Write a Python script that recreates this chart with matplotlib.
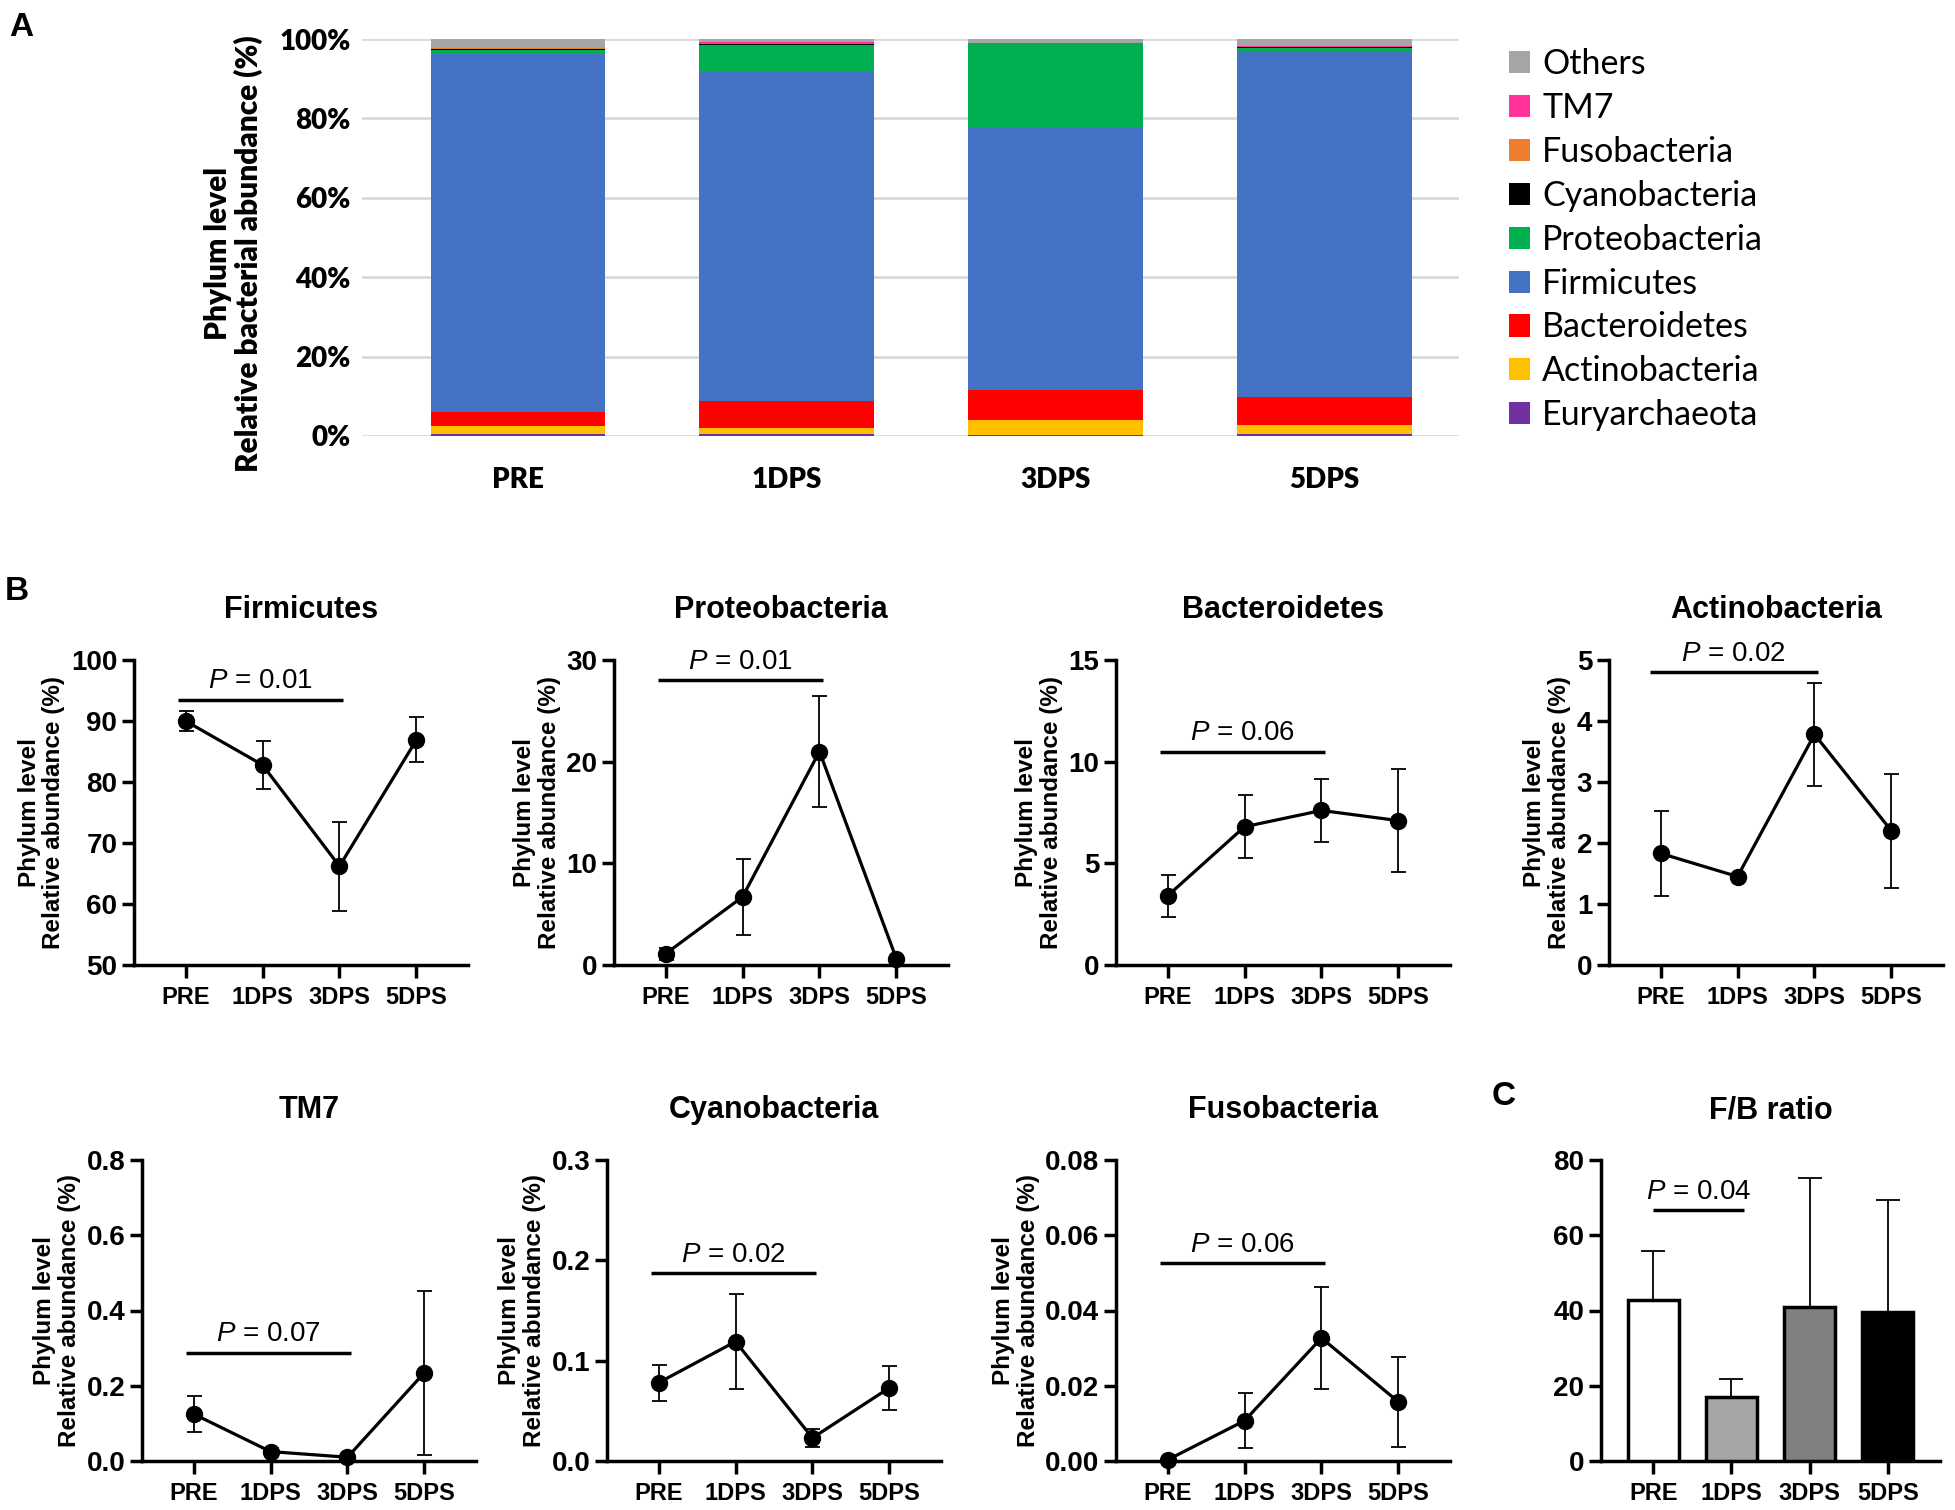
import matplotlib
matplotlib.use("Agg")
import matplotlib.pyplot as plt
import numpy as np

plt.rcParams['font.family'] = ['Liberation Sans', 'DejaVu Sans']
plt.rcParams['mathtext.fontset'] = 'custom'
plt.rcParams['mathtext.it'] = 'Liberation Sans:italic'
plt.rcParams['mathtext.rm'] = 'Liberation Sans'

# ---- panel A: stacked composition (%) ----
groups = ["PRE", "1DPS", "3DPS", "5DPS"]
phyla = ["Euryarchaeota", "Actinobacteria", "Bacteroidetes", "Firmicutes",
         "Proteobacteria", "Cyanobacteria", "Fusobacteria", "TM7", "Others"]
euryarchaeota  = [0.6, 0.4, 0.2, 0.5]
actinobacteria = [1.8, 1.5, 3.8, 2.2]
bacteroidetes  = [3.6, 6.8, 7.6, 7.1]
firmicutes     = [90.2, 83.1, 65.9, 87.3]
proteobacteria = [1.0, 6.7, 21.4, 0.7]
cyanobacteria  = [0.4, 0.2, 0.05, 0.1]
fusobacteria   = [0.05, 0.1, 0.05, 0.05]
tm7            = [0.15, 0.5, 0.05, 0.3]
others         = [2.2, 0.7, 0.95, 1.75]
stack = [euryarchaeota, actinobacteria, bacteroidetes, firmicutes,
         proteobacteria, cyanobacteria, fusobacteria, tm7, others]
colors = ["#7030A0", "#FFC000", "#FF0000", "#4472C4", "#00B050",
          "#000000", "#ED7D31", "#FF3399", "#A5A5A5"]

# ---- panel B/C: mean +/- error ----
firm_mean = [90.0, 82.8, 66.2, 86.9];       firm_err = [1.7, 4.0, 7.3, 3.7]
proteo_mean = [1.1, 6.7, 21.0, 0.6];        proteo_err = [0.6, 3.75, 5.5, 0.2]
bact_mean = [3.4, 6.8, 7.6, 7.1];           bact_err = [1.05, 1.55, 1.55, 2.55]
actino_mean = [1.83, 1.45, 3.78, 2.2];      actino_err = [0.7, 0.05, 0.85, 0.93]
tm7_mean = [0.125, 0.025, 0.01, 0.235];     tm7_err = [0.048, 0.01, 0.005, 0.218]
cyano_mean = [0.078, 0.119, 0.023, 0.073];  cyano_err = [0.018, 0.047, 0.009, 0.022]
fuso_mean = [0.0003, 0.0107, 0.0327, 0.0157]; fuso_err = [0.0002, 0.0073, 0.0135, 0.012]
fb_mean = [42.8, 17.0, 40.8, 39.6];         fb_err = [12.9, 4.9, 34.3, 29.8]
fb_colors = ["#FFFFFF", "#A6A6A8", "#808080", "#000000"]

W, H = 1955, 1510
fig = plt.figure(figsize=(W / 100, H / 100), dpi=100)


def px_axes(left, top, right, bottom):
    return fig.add_axes([left / W, 1 - bottom / H, (right - left) / W, (bottom - top) / H])


# ================= A =================
axA = px_axes(362, 39, 1459, 436)
x = np.arange(len(groups))
bottom = np.zeros(len(groups))
handles = []
for name, vals, c in zip(phyla, stack, colors):
    b = axA.bar(x, vals, width=0.65, bottom=bottom, color=c, label=name, zorder=3, linewidth=0)
    handles.append(b)
    bottom += np.array(vals)
axA.set_xlim(-0.58, 3.5)
axA.set_ylim(0, 100)
axA.set_yticks(range(0, 101, 20))
axA.set_yticklabels([f"{v}%" for v in range(0, 101, 20)], fontfamily="Lato",
                    fontweight="heavy", fontsize=20)
axA.set_xticks(x)
axA.set_xticklabels(groups, fontfamily="Lato", fontweight="heavy", fontsize=20)
axA.tick_params(axis="both", length=0)
axA.tick_params(axis="x", pad=22)
axA.tick_params(axis="y", pad=8)
axA.grid(axis="y", color="#D9D9D9", linewidth=2, zorder=0)
for s in axA.spines.values():
    s.set_visible(False)
axA.set_ylabel("Phylum level\nRelative bacterial abundance (%)", fontfamily="Lato",
               fontweight="heavy", fontsize=21.5, labelpad=12, linespacing=1.05, y=0.46)
fig.legend(handles[::-1], phyla[::-1], loc="upper left", bbox_to_anchor=(1509 / W, 1 - 48 / H),
           frameon=False, prop={"family": "Lato", "size": 24.5}, handlelength=0.62,
           handleheight=0.62, handletextpad=0.35, labelspacing=0.35, borderpad=0,
           borderaxespad=0)

# ================= B / C =================
panels = [
    ("Firmicutes", firm_mean, firm_err, (50, 100), [50, 60, 70, 80, 90, 100], "{:.0f}",
     "0.01", 93.5, (-0.1, 2.05), (134, 660, 468, 965)),
    ("Proteobacteria", proteo_mean, proteo_err, (0, 30), [0, 10, 20, 30], "{:.0f}",
     "0.01", 28.0, (-0.1, 2.05), (614, 660, 948, 965)),
    ("Bacteroidetes", bact_mean, bact_err, (0, 15), [0, 5, 10, 15], "{:.0f}",
     "0.06", 10.5, (-0.1, 2.05), (1116, 660, 1450, 965)),
    ("Actinobacteria", actino_mean, actino_err, (0, 5), [0, 1, 2, 3, 4, 5], "{:.0f}",
     "0.02", 4.8, (-0.14, 2.04), (1609, 660, 1943, 965)),
    ("TM7", tm7_mean, tm7_err, (0, 0.8), [0, 0.2, 0.4, 0.6, 0.8], "{:.1f}",
     "0.07", 0.288, (-0.1, 2.05), (142, 1160, 476, 1461)),
    ("Cyanobacteria", cyano_mean, cyano_err, (0, 0.3), [0, 0.1, 0.2, 0.3], "{:.1f}",
     "0.02", 0.187, (-0.1, 2.05), (607, 1160, 941, 1461)),
    ("Fusobacteria", fuso_mean, fuso_err, (0, 0.08), [0, 0.02, 0.04, 0.06, 0.08], "{:.2f}",
     "0.06", 0.0526, (-0.1, 2.05), (1116, 1160, 1450, 1461)),
]


def style_axis(ax, ylim, yticks, fmt):
    ax.set_xlim(-0.67, 3.67)
    ax.set_ylim(*ylim)
    ax.set_yticks(yticks)
    ax.set_yticklabels([fmt.format(v) for v in yticks], fontweight="bold", fontsize=20)
    ax.set_xticks(range(len(groups)))
    ax.set_xticklabels(groups, fontweight="bold", fontsize=17)
    for side in ("top", "right"):
        ax.spines[side].set_visible(False)
    for side in ("left", "bottom"):
        ax.spines[side].set_linewidth(2.5)
    ax.tick_params(axis="both", length=9, width=2.5, direction="out")
    ax.tick_params(axis="y", pad=3)
    ax.tick_params(axis="x", pad=6)


def p_bar(ax, text, y, xr, xt=None):
    ax.plot(xr, [y, y], color="black", linewidth=2.5, solid_capstyle="butt", clip_on=False)
    xt = np.mean(xr) if xt is None else xt
    ax.annotate(f"$P$ = {text}", (xt, y), xytext=(0, 4), textcoords="offset points",
                ha="center", va="bottom", fontsize=20)


for title, mean, err, ylim, yticks, fmt, ptxt, py, pxr, rect in panels:
    ax = px_axes(*rect)
    ax.errorbar(range(len(groups)), mean, yerr=err, color="black", linewidth=2.3,
                marker="o", markersize=11.5, ecolor="black", elinewidth=1.3,
                capsize=5.4, capthick=1.3, clip_on=False, zorder=3)
    style_axis(ax, ylim, yticks, fmt)
    ax.set_title(title, fontweight="bold", fontsize=22, pad=30)
    ax.set_ylabel("Phylum level\nRelative abundance (%)", fontweight="bold", fontsize=17.5,
                  labelpad=4, linespacing=1.1)
    p_bar(ax, ptxt, py, pxr)

# F/B ratio
axC = px_axes(1601, 1160, 1940, 1461)
axC.bar(range(len(groups)), fb_mean, width=0.65, color=fb_colors, edgecolor="black",
        linewidth=2.5, zorder=3)
axC.errorbar(range(len(groups)), fb_mean, yerr=[np.zeros(4), fb_err], fmt="none",
             ecolor="black", elinewidth=1.3, capsize=8.8, capthick=1.3, zorder=2)
style_axis(axC, (0, 80), [0, 20, 40, 60, 80], "{:.0f}")
axC.set_title("F/B ratio", fontweight="bold", fontsize=22, pad=30)
p_bar(axC, "0.04", 66.6, (-0.01, 1.16), xt=0.58)

# panel letters
fig.text(9 / W, 1 - 12 / H, "A", fontsize=24, fontweight="bold", va="top")
fig.text(5 / W, 1 - 576 / H, "B", fontsize=24, fontweight="bold", va="top")
fig.text(1492 / W, 1 - 1081 / H, "C", fontsize=24, fontweight="bold", va="top")

fig.savefig("out.png", dpi=100)
